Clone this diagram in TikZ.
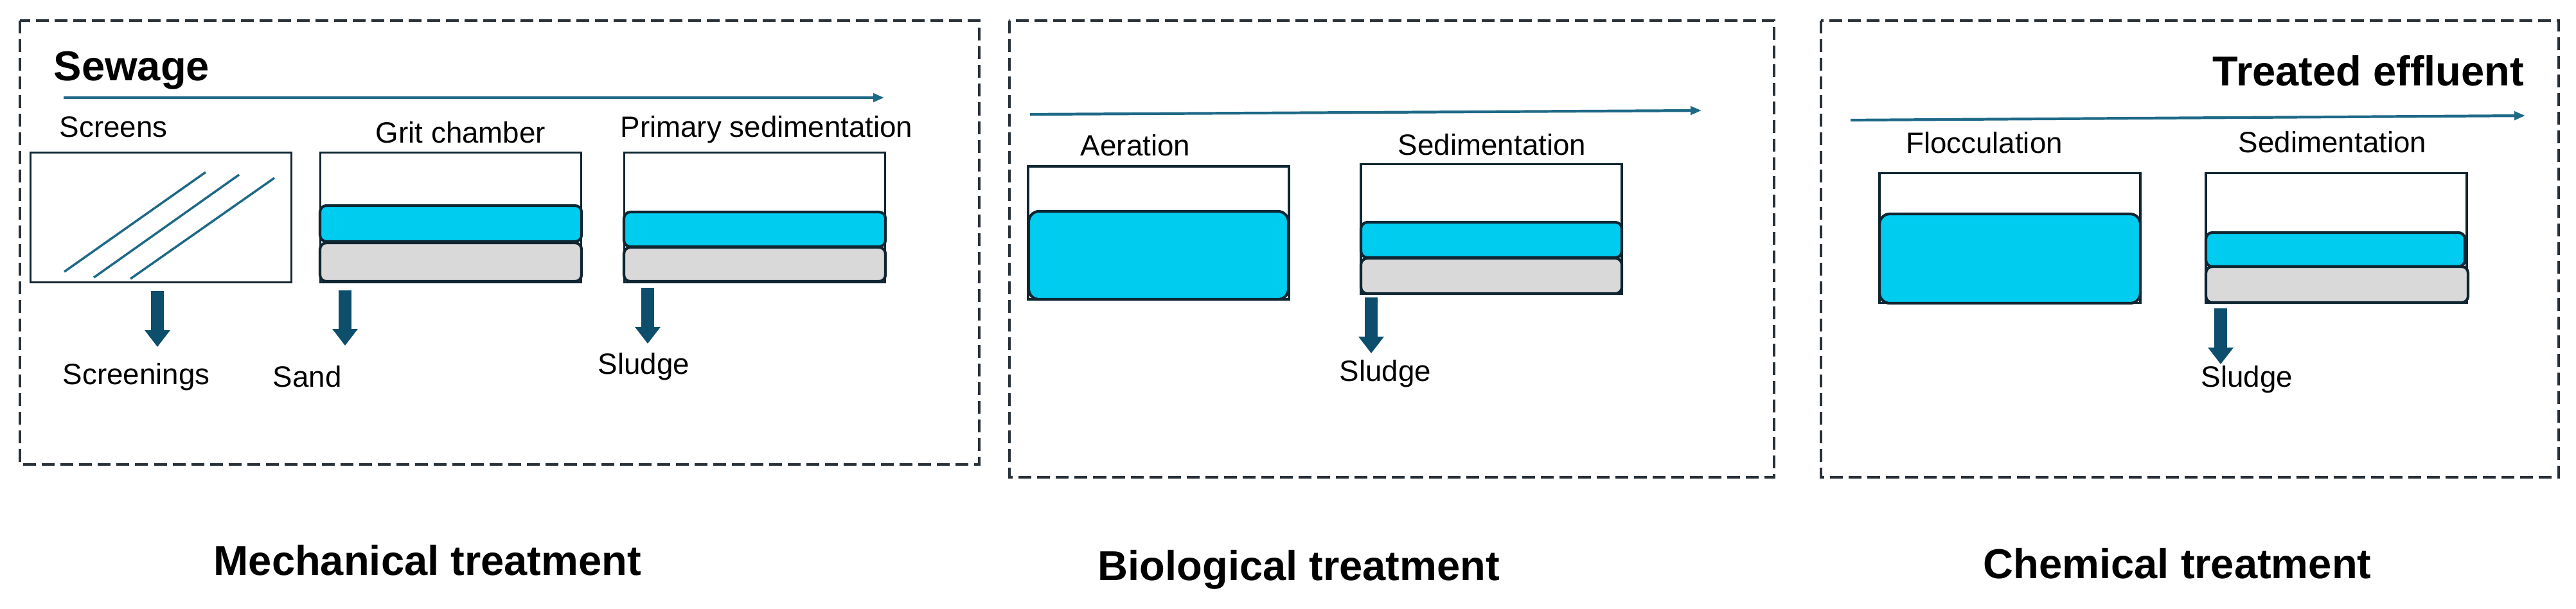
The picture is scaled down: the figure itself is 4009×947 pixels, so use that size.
\documentclass[tikz,border=0pt]{standalone}
\usepackage{fontspec}
\setmainfont{Liberation Sans}
\usepackage{tikz}
\usetikzlibrary{positioning, arrows.meta, calc}
\definecolor{flowColor}{RGB}{30,105,135}
\definecolor{outColor}{RGB}{12,78,108}
\definecolor{waterColor}{RGB}{0,204,240}
\definecolor{sludgeColor}{RGB}{217,217,217}
\definecolor{edgeColor}{RGB}{15,38,50}
\definecolor{panelColor}{RGB}{40,48,56}
\tikzset{
    tank/.style={
        draw=edgeColor,
        line width=1pt,
        fill=white,
        minimum width=4.06cm,
        minimum height=2.02cm,
        inner sep=0pt
    },
    water/.style={draw=edgeColor, line width=1.2pt, fill=waterColor, rounded corners=0.1cm},
    sediment/.style={draw=edgeColor, line width=1.2pt, fill=sludgeColor, rounded corners=0.1cm},
    flow/.style={
        -{Triangle[length=0.17cm, width=0.13cm]},
        draw=flowColor,
        line width=1.2pt
    },
    outflow/.style={
        -{Triangle[length=0.26cm, width=0.38cm]},
        draw=outColor,
        line width=0.2cm
    },
    bar/.style={draw=flowColor, line width=1pt},
    panel/.style={draw=panelColor, line width=1pt, dash pattern=on 0.2cm off 0.09cm},
    lbl/.style={font=\fontsize{13}{15}\selectfont, inner sep=0pt, anchor=base},
    heading/.style={font=\fontsize{18.5}{22}\selectfont\bfseries, inner sep=0pt, anchor=base}
}

\begin{document}
\begin{tikzpicture}[x=0.01cm, y=-0.01cm]
        \useasboundingbox (0,0) rectangle (4009,947);

        % treatment stages
        \draw[panel] (31,32) rectangle (1524,723);
        \draw[panel] (1571,32) rectangle (2761,743);
        \draw[panel] (2834,32) rectangle (3982,743);

        % mechanical treatment
        \node[heading, anchor=base west] (sewage) at (83,125) {Sewage};
        \coordinate (mechIn) at (99,152);
        \coordinate (mechOut) at (1376,152);
        \draw[flow] (mechIn) -- (mechOut);

        \node[tank] (screens) at (250.5,338.5) {};
        \node[tank] (grit) at (701.5,338.5) {};
        \node[tank] (primary) at (1174.5,338.5) {};
        \node[lbl, anchor=base west] (screensLbl) at (92,213) {Screens};
        \node[lbl] (gritLbl) at (717,222) {Grit chamber};
        \node[lbl] (primaryLbl) at (1193,213) {Primary sedimentation};

        \draw[bar] (100,423) -- (320,268);
        \draw[bar] (146,432) -- (372,272);
        \draw[bar] (203,434) -- (427,277);

        \draw[water] (498,320) rectangle (905,376);
        \draw[sediment] (498,378) rectangle (905,438);
        \draw[water] (971,330) rectangle (1378,384);
        \draw[sediment] (971,385) rectangle (1378,438);

        \coordinate (screensTop) at (245,453);
        \coordinate (screensEnd) at (245,540);
        \coordinate (sandTop) at (537,452);
        \coordinate (sandEnd) at (537,538);
        \coordinate (primaryTop) at (1008,448);
        \coordinate (primaryEnd) at (1008,535);
        \draw[outflow] (screensTop) -- (screensEnd);
        \draw[outflow] (sandTop) -- (sandEnd);
        \draw[outflow] (primaryTop) -- (primaryEnd);
        \node[lbl, anchor=base west] (screenings) at (97,598) {Screenings};
        \node[lbl, anchor=base west] (sand) at (424,602) {Sand};
        \node[lbl, anchor=base west] (sludgeA) at (930,582) {Sludge};

        % biological treatment
        \coordinate (bioIn) at (1603,178);
        \coordinate (bioOut) at (2648,172);
        \draw[flow] (bioIn) -- (bioOut);

        \node[tank, minimum height=2.07cm] (aeration) at (1803,362.5) {};
        \node[tank] (sedB) at (2321,356.5) {};
        \node[lbl] (aerationLbl) at (1767,242) {Aeration};
        \node[lbl] (sedBLbl) at (2322,241) {Sedimentation};

        \draw[water, rounded corners=0.16cm] (1601,329) rectangle (2005,466);
        \draw[water] (2118,346) rectangle (2524,401);
        \draw[sediment] (2118,402) rectangle (2524,457);

        \coordinate (sedBTop) at (2134,463);
        \coordinate (sedBEnd) at (2134,550);
        \draw[outflow] (sedBTop) -- (sedBEnd);
        \node[lbl, anchor=base west] (sludgeB) at (2084,593) {Sludge};

        % chemical treatment
        \node[heading, anchor=base east] (effluent) at (3929,133) {Treated effluent};
        \coordinate (chemIn) at (2880,187);
        \coordinate (chemOut) at (3930,180);
        \draw[flow] (chemIn) -- (chemOut);

        \node[tank] (flocc) at (3128,370.5) {};
        \node[tank] (sedC) at (3636,370.5) {};
        \node[lbl] (floccLbl) at (3088,238) {Flocculation};
        \node[lbl] (sedCLbl) at (3630,237) {Sedimentation};

        \draw[water, rounded corners=0.16cm] (2925,333) rectangle (3331,472);
        \draw[water] (3433,362) rectangle (3836,415);
        \draw[sediment] (3433,415) rectangle (3841,471);

        \coordinate (sedCTop) at (3456,480);
        \coordinate (sedCEnd) at (3456,567);
        \draw[outflow] (sedCTop) -- (sedCEnd);
        \node[lbl, anchor=base west] (sludgeC) at (3425,602) {Sludge};

        % stage titles
        \node[heading, anchor=base west] (mechTitle) at (332,895) {Mechanical treatment};
        \node[heading, anchor=base west] (bioTitle) at (1708,903) {Biological treatment};
        \node[heading, anchor=base west] (chemTitle) at (3086,900) {Chemical treatment};
    \end{tikzpicture}
\end{document}
